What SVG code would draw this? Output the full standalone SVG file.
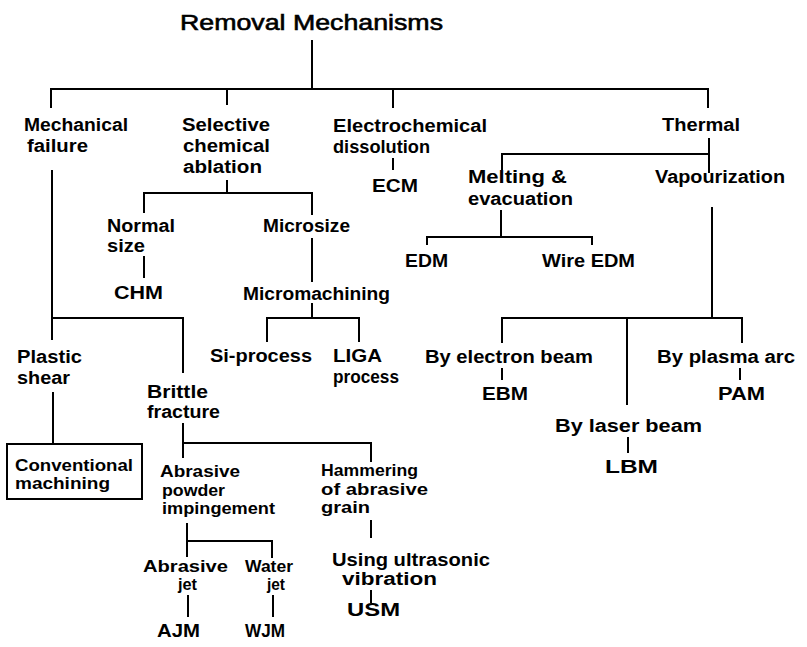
<svg xmlns="http://www.w3.org/2000/svg" width="807" height="647" viewBox="0 0 807 647">
<style>
text{font-family:"Liberation Sans",Arial,sans-serif;font-size:18px;font-weight:bold;fill:#000}
text.s{font-size:16px}
.title{font-size:22px;font-weight:normal;stroke:#000;stroke-width:0.6}
.c path,.box{fill:none;stroke:#000;stroke-width:2}
</style>
<rect width="807" height="647" fill="#fff"/>
<g class="c" id="connectors">
<path d="M312,40V89M51,89H709M51,88V108M227,89V105M393,89V108M708,88V108"/>
<path d="M52,170V340M52,318H183V373"/>
<path d="M227,180V193M144,193H312M144,192V213M312,192V215M144,256V278"/>
<path d="M312,238V282M312,303V318M267,318H359M267,317V342M359,317V342"/>
<path d="M393,158V170"/>
<path d="M709,138V173M502,154H709M502,153V170"/>
<path d="M501,210V237M427,237H592M427,236V245M592,236V245"/>
<path d="M712,207V318M502,318H742M502,317V343M627,318V405M742,317V343"/>
<path d="M502,368V380M740,368V380M628,437V453"/>
<path d="M53,392V444"/>
<path d="M183,423V458M183,443H371M371,442V462"/>
<path d="M187,523V557M187,541H272M272,540V558M188,595V617M273,595V617"/>
<path d="M371,520V538M371,590V603"/>
</g>
<g id="n-root"><text class="title" x="180" y="30" textLength="263" lengthAdjust="spacingAndGlyphs">Removal Mechanisms</text></g>
<g id="n-mech"><text x="24" y="131" textLength="104" lengthAdjust="spacingAndGlyphs">Mechanical</text><text x="27" y="152" textLength="61" lengthAdjust="spacingAndGlyphs">failure</text></g>
<g id="n-sel"><text x="182" y="131" textLength="88" lengthAdjust="spacingAndGlyphs">Selective</text><text x="183" y="152" textLength="87" lengthAdjust="spacingAndGlyphs">chemical</text><text x="183" y="173" textLength="79" lengthAdjust="spacingAndGlyphs">ablation</text></g>
<g id="n-echem"><text x="333" y="132" textLength="154" lengthAdjust="spacingAndGlyphs">Electrochemical</text><text x="333" y="153" textLength="97" lengthAdjust="spacingAndGlyphs">dissolution</text></g>
<g id="n-ecm"><text x="372" y="192" textLength="46" lengthAdjust="spacingAndGlyphs">ECM</text></g>
<g id="n-thermal"><text x="662" y="131" textLength="78" lengthAdjust="spacingAndGlyphs">Thermal</text></g>
<g id="n-melt"><text x="468" y="183" textLength="99" lengthAdjust="spacingAndGlyphs">Melting &amp;</text><text x="468" y="205" textLength="105" lengthAdjust="spacingAndGlyphs">evacuation</text></g>
<g id="n-vap"><text x="655" y="183" textLength="130" lengthAdjust="spacingAndGlyphs">Vapourization</text></g>
<g id="n-edm"><text x="405" y="267" textLength="43" lengthAdjust="spacingAndGlyphs">EDM</text></g>
<g id="n-wedm"><text x="542" y="267" textLength="93" lengthAdjust="spacingAndGlyphs">Wire EDM</text></g>
<g id="n-normal"><text x="107" y="232" textLength="68" lengthAdjust="spacingAndGlyphs">Normal</text><text x="107" y="252" textLength="38" lengthAdjust="spacingAndGlyphs">size</text></g>
<g id="n-chm"><text x="114" y="299" textLength="49" lengthAdjust="spacingAndGlyphs">CHM</text></g>
<g id="n-micro"><text x="263" y="232" textLength="87" lengthAdjust="spacingAndGlyphs">Microsize</text></g>
<g id="n-mm"><text x="243" y="300" textLength="147" lengthAdjust="spacingAndGlyphs">Micromachining</text></g>
<g id="n-si"><text x="210" y="362" textLength="102" lengthAdjust="spacingAndGlyphs">Si-process</text></g>
<g id="n-liga"><text x="333" y="362" textLength="49" lengthAdjust="spacingAndGlyphs">LIGA</text><text x="333" y="383" textLength="66" lengthAdjust="spacingAndGlyphs">process</text></g>
<g id="n-plastic"><text x="17" y="363" textLength="65" lengthAdjust="spacingAndGlyphs">Plastic</text><text x="17" y="384" textLength="53" lengthAdjust="spacingAndGlyphs">shear</text></g>
<g id="n-conv"><rect class="box" x="7" y="444" width="135" height="55"/><text class="s" x="15" y="471" textLength="118" lengthAdjust="spacingAndGlyphs">Conventional</text><text class="s" x="15" y="489" textLength="95" lengthAdjust="spacingAndGlyphs">machining</text></g>
<g id="n-brittle"><text x="147" y="398" textLength="61" lengthAdjust="spacingAndGlyphs">Brittle</text><text x="147" y="418" textLength="73" lengthAdjust="spacingAndGlyphs">fracture</text></g>
<g id="n-abr"><text class="s" x="160" y="477" textLength="80" lengthAdjust="spacingAndGlyphs">Abrasive</text><text class="s" x="162" y="496" textLength="63" lengthAdjust="spacingAndGlyphs">powder</text><text class="s" x="162" y="514" textLength="113" lengthAdjust="spacingAndGlyphs">impingement</text></g>
<g id="n-ham"><text class="s" x="321" y="476" textLength="97" lengthAdjust="spacingAndGlyphs">Hammering</text><text class="s" x="321" y="495" textLength="107" lengthAdjust="spacingAndGlyphs">of abrasive</text><text class="s" x="321" y="513" textLength="49" lengthAdjust="spacingAndGlyphs">grain</text></g>
<g id="n-us"><text x="332" y="566" textLength="158" lengthAdjust="spacingAndGlyphs">Using ultrasonic</text><text x="342" y="585" textLength="95" lengthAdjust="spacingAndGlyphs">vibration</text></g>
<g id="n-usm"><text x="347" y="616" textLength="53" lengthAdjust="spacingAndGlyphs">USM</text></g>
<g id="n-aj"><text class="s" x="143" y="572" textLength="85" lengthAdjust="spacingAndGlyphs">Abrasive</text><text class="s" x="178" y="590" textLength="19" lengthAdjust="spacingAndGlyphs">jet</text></g>
<g id="n-ajm"><text x="157" y="637" textLength="43" lengthAdjust="spacingAndGlyphs">AJM</text></g>
<g id="n-wj"><text class="s" x="245" y="572" textLength="48" lengthAdjust="spacingAndGlyphs">Water</text><text class="s" x="267" y="590" textLength="18" lengthAdjust="spacingAndGlyphs">jet</text></g>
<g id="n-wjm"><text x="245" y="637" textLength="40" lengthAdjust="spacingAndGlyphs">WJM</text></g>
<g id="n-eb"><text x="425" y="363" textLength="168" lengthAdjust="spacingAndGlyphs">By electron beam</text></g>
<g id="n-ebm"><text x="482" y="400" textLength="46" lengthAdjust="spacingAndGlyphs">EBM</text></g>
<g id="n-lb"><text x="555" y="432" textLength="147" lengthAdjust="spacingAndGlyphs">By laser beam</text></g>
<g id="n-lbm"><text x="605" y="473" textLength="53" lengthAdjust="spacingAndGlyphs">LBM</text></g>
<g id="n-pa"><text x="657" y="363" textLength="138" lengthAdjust="spacingAndGlyphs">By plasma arc</text></g>
<g id="n-pam"><text x="718" y="400" textLength="47" lengthAdjust="spacingAndGlyphs">PAM</text></g>
</svg>
